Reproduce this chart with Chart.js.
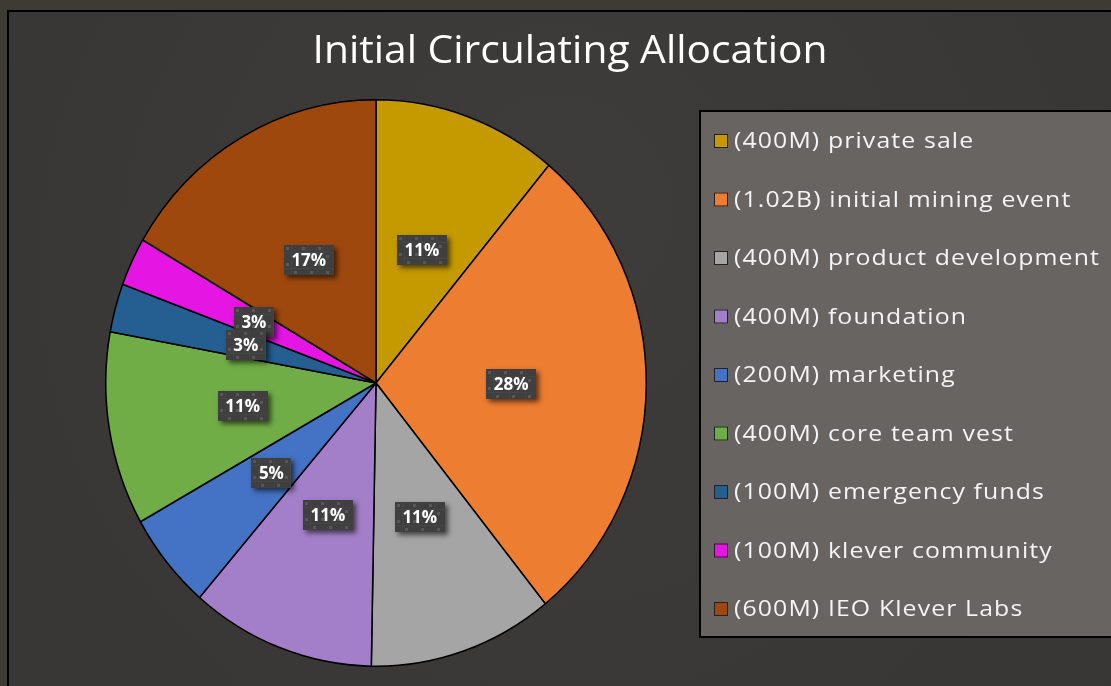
<!DOCTYPE html>
<html><head><meta charset="utf-8">
<script src="https://cdn.jsdelivr.net/npm/chart.js@4"></script>
<style>html,body{margin:0;padding:0;background:#3d3a34;overflow:hidden}#wrap{position:relative;width:1111px;height:686px}canvas{display:block}</style>
</head><body><div id="wrap"><canvas id="c" width="1111" height="686"></canvas></div>
<script>
const chartTitle = 'Initial Circulating Allocation';
const categories = ['(400M) private sale','(1.02B) initial mining event','(400M) product development','(400M) foundation','(200M) marketing','(400M) core team vest','(100M) emergency funds','(100M) klever community','(600M) IEO Klever Labs'];
const values = [400,1020,400,400,200,400,100,100,600];
const percentLabels = ['11%','28%','11%','11%','5%','11%','3%','3%','17%'];
const colors = ['#C49A00','#ED7D31','#A5A5A5','#A27FC8','#4472C4','#70AD47','#255E91','#E515E4','#9E480E'];

const SY = 284/271;

function makePattern(ctx){
  const p = document.createElement('canvas'); p.width=16; p.height=16;
  const g = p.getContext('2d');
  g.fillStyle='#3f3f3f'; g.fillRect(0,0,16,16);
  g.fillStyle='#454545'; g.fillRect(0,7,16,1); g.fillRect(7,0,1,16);
  g.fillStyle='#575757'; g.fillRect(2,2,3,3); g.fillRect(10,10,3,3);
  return ctx.createPattern(p,'repeat');
}

function wideText(ctx, text, x, y, sx){
  ctx.save();
  ctx.translate(x, y); ctx.scale(sx, 1);
  ctx.fillText(text, 0, 0);
  ctx.restore();
}

const deco = {
  id:'deco',
  beforeDraw(chart){
    const ctx = chart.ctx;
    ctx.save();
    ctx.fillStyle='#3e3b35'; ctx.fillRect(0,0,1111,686);
    const g = ctx.createRadialGradient(560,200,50,560,300,700);
    g.addColorStop(0,'#3e3c3b'); g.addColorStop(1,'#383635');
    ctx.fillStyle=g; ctx.fillRect(8,11,1110,680);
    ctx.strokeStyle='#000'; ctx.lineWidth=2;
    ctx.strokeRect(8,11,1120,690);
    ctx.restore();
  },
  beforeDatasetsDraw(chart){
    const ctx = chart.ctx;
    const a = chart.getDatasetMeta(0).data[0];
    ctx.save();
    ctx.translate(0,a.y); ctx.scale(1,SY); ctx.translate(0,-a.y);
  },
  afterDatasetsDraw(chart){
    const ctx = chart.ctx;
    ctx.restore();
    const arcs = chart.getDatasetMeta(0).data;
    const pat = makePattern(ctx);
    // percentage labels
    ctx.save();
    ctx.font = 'bold 17px "Open Sans", sans-serif';
    ctx.textAlign='center'; ctx.textBaseline='middle';
    for (let i = arcs.length-1; i>=0; i--){
      const a = arcs[i];
      const mid = (a.startAngle + a.endAngle)/2;
      const r = a.outerRadius*0.5;
      const lx = a.x + Math.cos(mid)*r;
      const ly = a.y + Math.sin(mid)*r*SY;
      const t = percentLabels[i];
      const w = ctx.measureText(t).width + 15, h = 30;
      ctx.save();
      ctx.shadowColor='rgba(0,0,0,0.6)'; ctx.shadowBlur=5; ctx.shadowOffsetX=3; ctx.shadowOffsetY=3;
      ctx.fillStyle='#3f3f3f';
      ctx.fillRect(Math.round(lx-w/2),Math.round(ly-h/2),Math.round(w),h);
      ctx.restore();
      ctx.save();
      ctx.translate(Math.round(lx-w/2),Math.round(ly-h/2));
      ctx.fillStyle=pat; ctx.fillRect(0,0,Math.round(w),h);
      ctx.restore();
      ctx.fillStyle='#ffffff';
      ctx.fillText(t, lx, ly+1);
    }
    ctx.restore();
    // legend
    ctx.save();
    ctx.fillStyle='#676462'; ctx.fillRect(700,111,420,526);
    ctx.strokeStyle='#000'; ctx.lineWidth=2; ctx.strokeRect(700,111,420,526);
    ctx.font = '22px "Open Sans", sans-serif';
    ctx.textBaseline='alphabetic'; ctx.textAlign='left';
    try{ ctx.letterSpacing='1px'; }catch(e){}
    const refW = ctx.measureText(categories[2]).width;
    const sxL = 366 / refW;
    categories.forEach((c,i)=>{
      const cy = 141 + i*58.5;
      ctx.fillStyle=colors[i]; ctx.fillRect(714,cy-7,14,14);
      ctx.strokeStyle='#222'; ctx.lineWidth=1; ctx.strokeRect(714.5,cy-6.5,13,13);
      ctx.fillStyle='#f4f4f4'; wideText(ctx, c, 734, cy+7, sxL);
    });
    ctx.restore();
    // title
    ctx.save();
    ctx.font = '39px "Open Sans", sans-serif';
    ctx.fillStyle='#ffffff'; ctx.textAlign='center'; ctx.textBaseline='alphabetic';
    const tw = ctx.measureText(chartTitle).width;
    wideText(ctx, chartTitle, 570, 63, 515 / tw);
    ctx.restore();
  }
};

new Chart(document.getElementById('c'), {
  type:'pie',
  data:{ labels: categories, datasets:[{ data: values, backgroundColor: colors, borderColor:'#000', borderWidth:1.5, clip:false }]},
  options:{
    responsive:false, devicePixelRatio:1, animation:false,
    layout:{ padding:{ left:105, right:464, top:112, bottom:32 } },
    plugins:{ legend:{display:false}, tooltip:{enabled:false}, title:{display:false} },
    events:[]
  },
  plugins:[deco]
});
</script>
</body></html>
